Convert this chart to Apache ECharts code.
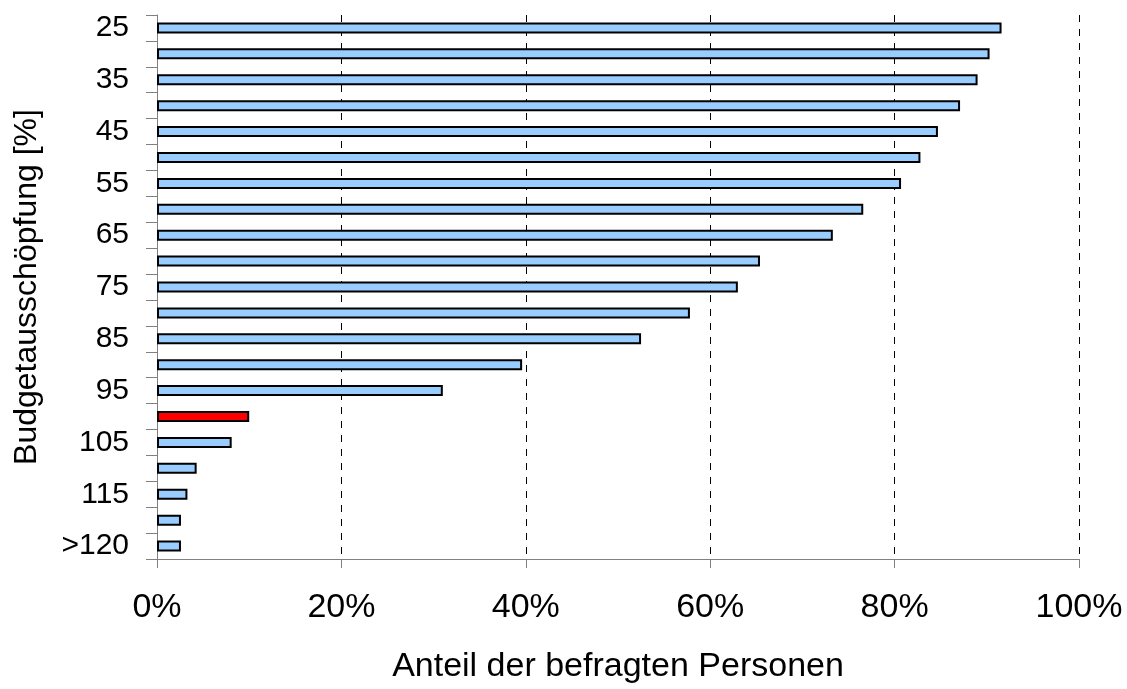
<!DOCTYPE html>
<html>
<head>
<meta charset="utf-8">
<script src="https://cdn.jsdelivr.net/npm/echarts@6/dist/echarts.min.js"></script>
<style>
html,body{margin:0;padding:0;background:#fff;}
#chart{width:1127px;height:689px;}
</style>
</head>
<body>
<div id="chart"></div>
<script>
const categories = ['25','30','35','40','45','50','55','60','65','70','75','80','85','90','95','100','105','110','115','120','>120'];
const shares = [91.6,90.3,89.0,87.1,84.7,82.8,80.7,76.6,73.3,65.4,63.0,57.8,52.5,39.6,31.0,10.0,8.1,4.3,3.3,2.6,2.6];
const highlightCategory = '100';
const xTicks = [0,20,40,60,80,100];
const xAxisTitle = 'Anteil der befragten Personen';
const yAxisTitle = 'Budgetausschöpfung [%]';

const font = 'Liberation Sans, Arial, sans-serif';
const chart = echarts.init(document.getElementById('chart'), null, {renderer:'canvas'});
const barData = shares.map((v,i)=>({
  value: v,
  itemStyle: { color: categories[i]===highlightCategory ? '#ff0000' : '#99ccff' }
}));
chart.setOption({
  animation:false,
  backgroundColor:'#ffffff',
  grid:{left:157,right:48,top:15,bottom:124,containLabel:false},
  xAxis:{
    type:'value',
    min:xTicks[0], max:xTicks[xTicks.length-1], interval:20,
    axisLine:{show:true,lineStyle:{color:'#808080',width:1}},
    axisTick:{show:true,length:9,lineStyle:{color:'#808080'}},
    axisLabel:{formatter:'{value}%',fontFamily:font,fontSize:34,color:'#000',margin:32},
    splitLine:{show:true,showMinLine:false,lineStyle:{color:'#000',type:[7,7],width:1}},
    name:xAxisTitle,nameLocation:'middle',nameGap:91,
    nameTextStyle:{fontFamily:font,fontSize:34,color:'#000'}
  },
  yAxis:{
    type:'category',
    data:categories,
    inverse:true,
    boundaryGap:true,
    axisLine:{show:true,lineStyle:{color:'#808080',width:1}},
    axisTick:{show:true,interval:0,length:11,lineStyle:{color:'#808080'}},
    axisLabel:{interval:1,fontFamily:font,fontSize:30,color:'#000',margin:28},
    splitLine:{show:false},
    name:yAxisTitle,nameLocation:'middle',nameGap:114,nameRotate:90,
    nameTextStyle:{fontFamily:font,fontSize:32,color:'#000'}
  },
  series:[{
    type:'bar',
    data:barData,
    barWidth:11,
    itemStyle:{borderColor:'#000',borderWidth:2},
    z:3
  }]
});
</script>
</body>
</html>
